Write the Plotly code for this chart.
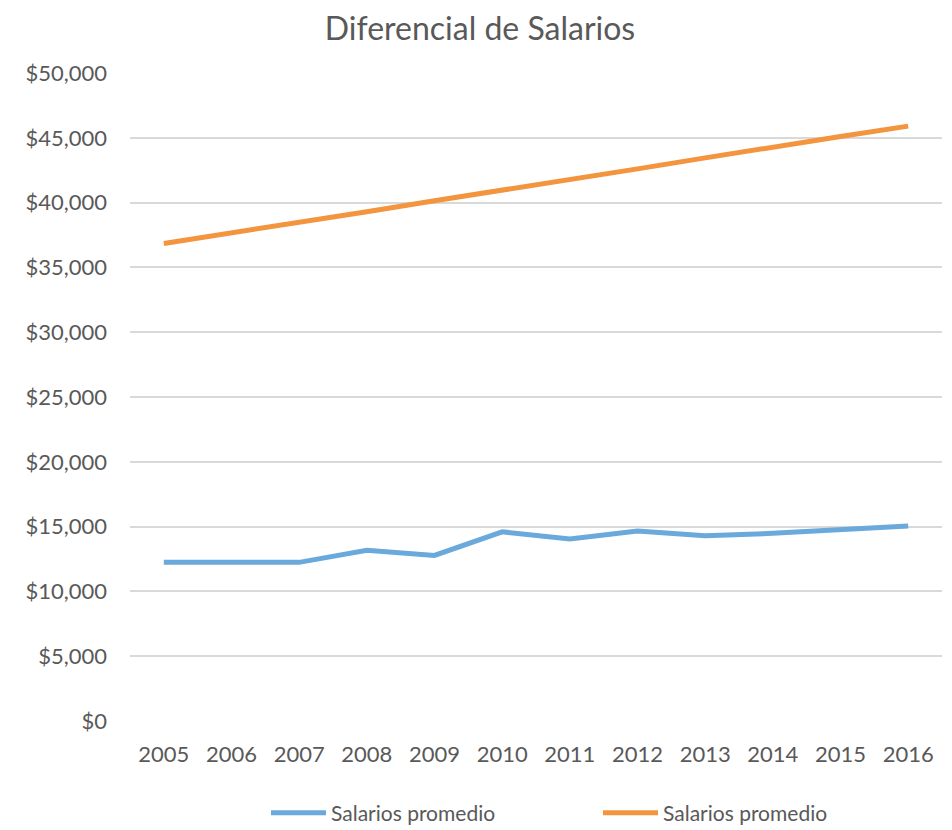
import plotly.graph_objects as go

years = ["2005", "2006", "2007", "2008", "2009", "2010", "2011", "2012", "2013", "2014", "2015", "2016"]
salarios_bajo = [12250, 12290, 12240, 13170, 12780, 14600, 14040, 14660, 14300, 14480, 14740, 15050]
salarios_alto = [36850, 37650, 38450, 39300, 40150, 40950, 41800, 42600, 43450, 44300, 45100, 45900]
y_ticks = [0, 5000, 10000, 15000, 20000, 25000, 30000, 35000, 40000, 45000, 50000]
y_tick_labels = ["$0", "$5,000", "$10,000", "$15,000", "$20,000", "$25,000", "$30,000", "$35,000", "$40,000", "$45,000", "$50,000"]

FONT = "Lato"
TXT = "#595959"
W, H = 944, 822

fig = go.Figure()
fig.add_trace(go.Scatter(x=years, y=salarios_bajo, mode="lines", name="Salarios promedio",
                         line=dict(color="#69A9DC", width=5, shape="linear")))
fig.add_trace(go.Scatter(x=years, y=salarios_alto, mode="lines", name="Salarios promedio",
                         line=dict(color="#F3943F", width=5)))

fig.update_layout(
    width=W, height=H,
    margin=dict(l=122, r=10, t=65, b=109, autoexpand=False),
    paper_bgcolor="white", plot_bgcolor="white",
    font=dict(family=FONT, color=TXT, size=20),
    title=dict(text="Diferencial de Salarios", x=0.5, xanchor="center",
               yref="container", y=1 - 21 / H, yanchor="middle",
               font=dict(family=FONT, size=32, color=TXT)),
    showlegend=True,
    legend=dict(orientation="h", xref="container", x=258 / W, xanchor="left",
                yref="container", y=17 / H, yanchor="middle",
                font=dict(family=FONT, size=21, color=TXT), itemwidth=55, entrywidth=262,
                tracegroupgap=0),
    xaxis=dict(type="category", range=[-0.5, 11.5], showgrid=False, showline=False, zeroline=False,
               automargin=False, ticks="", tickfont=dict(size=22, color=TXT), ticklabelstandoff=18),
    yaxis=dict(range=[0, 50000], tickvals=y_ticks, ticktext=y_tick_labels, automargin=False,
               showgrid=True, gridcolor="#D9D9D9", gridwidth=1.5, zeroline=False,
               showline=False, ticks="", tickfont=dict(size=22, color=TXT), ticklabelstandoff=22),
)

fig.write_html("out.html")
